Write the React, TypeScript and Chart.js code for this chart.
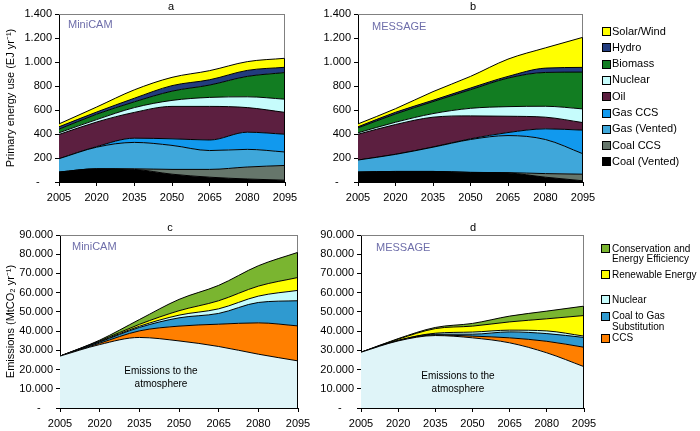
import React, { useEffect, useRef } from "react";
import { Chart, registerables } from "chart.js";
Chart.register(...registerables);

const years = ["2005", "2020", "2035", "2050", "2065", "2080", "2095"];

// Panel a – MiniCAM primary energy (EJ/yr), stacked bottom to top
const miniCoalVented = [83, 110, 105, 65, 40, 25, 15];
const miniCoalCCS = [0, 0, 5, 40, 65, 100, 123];
const miniGasVented = [111, 180, 220, 200, 157, 147, 112];
const miniGasCCS = [0, 5, 35, 55, 88, 143, 148];
const miniOil = [202, 205, 215, 270, 280, 205, 182];
const miniNuclear = [14, 20, 40, 50, 75, 90, 110];
const miniBiomass = [30, 45, 48, 77, 103, 170, 222];
const miniHydro = [20, 18, 30, 46, 44, 50, 44];
const miniSolarWind = [24, 42, 70, 69, 76, 73, 75];

// Panel b – MESSAGE primary energy (EJ/yr)
const msgCoalVented = [83, 88, 88, 80, 75, 40, 10];
const msgCoalCCS = [0, 0, 0, 0, 3, 30, 55];
const msgGasVented = [100, 142, 202, 274, 309, 284, 170];
const msgGasCCS = [0, 1, 2, 6, 25, 89, 197];
const msgOil = [215, 248, 248, 191, 136, 97, 63];
const msgNuclear = [12, 19, 30, 63, 80, 91, 114];
const msgBiomass = [41, 69, 100, 155, 238, 282, 307];
const msgHydro = [9, 14, 11, 14, 14, 36, 39];
const msgSolarWind = [24, 30, 72, 97, 144, 169, 251];

// Panel c – MiniCAM emissions (MtCO2/yr)
const miniAtmosphere = [27000, 33000, 36700, 34900, 32000, 28000, 24500];
const miniCCS = [0, 700, 3400, 7700, 11600, 16300, 18200];
const miniCoalToGas = [0, 600, 1800, 4300, 5600, 10600, 13100];
const miniNuclearAvoided = [0, 300, 600, 1400, 2400, 3300, 5400];
const miniRenewable = [0, 300, 1000, 2300, 4200, 5200, 6700];
const miniConservation = [0, 400, 2500, 5900, 8000, 10600, 13100];

// Panel d – MESSAGE emissions (MtCO2/yr)
const msgAtmosphere = [29000, 34900, 37700, 36500, 33900, 28700, 21500];
const msgCCS = [0, 100, 300, 900, 2600, 6000, 10100];
const msgCoalToGas = [0, 100, 400, 1000, 3100, 4000, 5100];
const msgNuclearAvoided = [0, 100, 500, 1100, 900, 1400, 700];
const msgRenewable = [0, 600, 2400, 3100, 4300, 6300, 10700];
const msgConservation = [0, 300, 600, 1400, 3000, 4000, 4900];

const energyNames = ["Coal (Vented)", "Coal CCS", "Gas (Vented)", "Gas CCS", "Oil", "Nuclear", "Biomass", "Hydro", "Solar/Wind"];
const energyColors = ["#000000", "#66766B", "#3FA7DA", "#1199EE", "#5C1F40", "#C6FCFC", "#127D22", "#223C7E", "#FFFF00"];

const emissionNames = ["Emissions to the atmosphere", "CCS", "Coal to Gas Substitution", "Nuclear", "Renewable Energy", "Conservation and Energy Efficiency"];
const emissionColors = ["#DFF4F8", "#FF7F00", "#2F9AD0", "#C6FCFC", "#FFFF00", "#7AB530"];

const energyTicksMax = 1400;
const energyStep = 200;
const emissionTicksMax = 90000;
const emissionStep = 10000;

const FONT = "'Liberation Sans', Arial, Helvetica, sans-serif";
const W = 700;
const H = 431;
const XH = 25;

function fmt(v: number): string {
  if (v === 0) return "-    ";
  if (v >= 1000) return Math.floor(v / 1000) + "." + String(v % 1000).padStart(3, "0");
  return String(v);
}

type Panel = {
  left: number; top: number; right: number; bottom: number; yW: number;
  yTitle?: string; max: number; step: number;
  series: number[][]; names: string[]; colors: string[];
};

const framePlugin = {
  id: "frame",
  afterDraw(chart: any) {
    const { ctx, chartArea } = chart;
    const { left, top, right, bottom } = chartArea;
    ctx.save();
    ctx.strokeStyle = "#808080";
    ctx.lineWidth = 1;
    ctx.beginPath();
    ctx.moveTo(left, Math.round(top) + 0.5);
    ctx.lineTo(right, Math.round(top) + 0.5);
    ctx.moveTo(Math.round(right) - 0.5, top);
    ctx.lineTo(Math.round(right) - 0.5, bottom);
    ctx.stroke();
    const n = chart.data.datasets.length;
    const meta = chart.getDatasetMeta(n - 1);
    const pt = meta.data[meta.data.length - 1];
    if (pt) {
      ctx.strokeStyle = "#000";
      ctx.beginPath();
      ctx.moveTo(Math.round(right) - 0.5, pt.y);
      ctx.lineTo(Math.round(right) - 0.5, bottom);
      ctx.stroke();
    }
    ctx.restore();
  },
};

function ChartPanel({ p }: { p: Panel }) {
  const ref = useRef<HTMLCanvasElement | null>(null);
  useEffect(() => {
    if (!ref.current) return;
    const font = { family: FONT, size: 11 };
    const datasets = p.series.map((d, i) => ({
      label: p.names[i],
      data: d,
      backgroundColor: p.colors[i],
      borderColor: "#000",
      borderWidth: 1,
      fill: i === 0 ? "origin" : "-1",
      pointRadius: 0,
      cubicInterpolationMode: "monotone" as const,
    }));
    const chart = new Chart(ref.current, {
      type: "line",
      data: { labels: years, datasets },
      options: {
        responsive: false,
        animation: false,
        devicePixelRatio: 1,
        layout: {
          padding: {
            left: p.left - p.yW,
            top: p.top,
            right: W - p.right,
            bottom: H - p.bottom - XH,
          },
        },
        plugins: { legend: { display: false }, title: { display: false }, tooltip: { enabled: false } },
        scales: {
          x: {
            type: "category",
            offset: false,
            z: 1,
            grid: { display: true, drawOnChartArea: false, drawTicks: true, tickLength: 4, color: "#000" },
            border: { display: true, color: "#000", width: 1 },
            ticks: { color: "#000", font, padding: 5, maxRotation: 0, autoSkip: false },
            afterFit: (s: any) => { s.height = XH; },
          },
          y: {
            stacked: true,
            min: 0,
            max: p.max,
            z: 1,
            grid: { display: true, drawOnChartArea: false, drawTicks: true, tickLength: 4, color: "#000" },
            border: { display: true, color: "#000", width: 1 },
            ticks: { stepSize: p.step, color: "#000", font, padding: 3, callback: (v: any) => fmt(Number(v)) },
            title: p.yTitle
              ? { display: true, text: p.yTitle, color: "#000", font, padding: { top: 4, bottom: 0 } }
              : { display: false },
            afterFit: (s: any) => { s.width = p.yW; },
          },
        },
      } as any,
      plugins: [framePlugin],
    });
    return () => chart.destroy();
  }, [p]);
  return <canvas ref={ref} width={W} height={H} style={{ position: "absolute", left: 0, top: 0 }} />;
}

const panels: Panel[] = [
  {
    left: 59, top: 14, right: 285, bottom: 182, yW: 59, yTitle: "Primary energy use (EJ yr\u207B\u00B9)",
    max: energyTicksMax, step: energyStep,
    series: [miniCoalVented, miniCoalCCS, miniGasVented, miniGasCCS, miniOil, miniNuclear, miniBiomass, miniHydro, miniSolarWind],
    names: energyNames, colors: energyColors,
  },
  {
    left: 358, top: 14, right: 583, bottom: 182, yW: 50,
    max: energyTicksMax, step: energyStep,
    series: [msgCoalVented, msgCoalCCS, msgGasVented, msgGasCCS, msgOil, msgNuclear, msgBiomass, msgHydro, msgSolarWind],
    names: energyNames, colors: energyColors,
  },
  {
    left: 60, top: 235, right: 298, bottom: 408, yW: 60, yTitle: "Emissions (MtCO\u2082 yr\u207B\u00B9)",
    max: emissionTicksMax, step: emissionStep,
    series: [miniAtmosphere, miniCCS, miniCoalToGas, miniNuclearAvoided, miniRenewable, miniConservation],
    names: emissionNames, colors: emissionColors,
  },
  {
    left: 361, top: 235, right: 584, bottom: 408, yW: 50,
    max: emissionTicksMax, step: emissionStep,
    series: [msgAtmosphere, msgCCS, msgCoalToGas, msgNuclearAvoided, msgRenewable, msgConservation],
    names: emissionNames, colors: emissionColors,
  },
];

function Txt({ x, cy, size, children, color = "#000", align = "left", lh = 13 }: any) {
  const style: any = {
    position: "absolute",
    top: cy - lh / 2,
    fontFamily: FONT,
    fontSize: size,
    lineHeight: lh + "px",
    color,
    whiteSpace: "nowrap",
  };
  if (align === "center") {
    style.left = x - 100;
    style.width = 200;
    style.textAlign = "center";
  } else {
    style.left = x;
  }
  return <div style={style}>{children}</div>;
}

function Box({ x, cy, color }: any) {
  return (
    <div
      style={{
        position: "absolute",
        left: x,
        top: cy - 4,
        width: 7,
        height: 7,
        background: color,
        border: "1px solid #000",
      }}
    />
  );
}

export default function App() {
  const topLegend = energyNames.map((n, i) => ({ name: n, color: energyColors[i] })).reverse();
  const botLegend = emissionNames.slice(1).map((n, i) => ({ name: n, color: emissionColors[i + 1] })).reverse();
  const botY = [248, 274, 299, 315.5, 337.5];
  const botLines: Record<string, string[]> = {
    "Conservation and Energy Efficiency": ["Conservation and", "Energy Efficiency"],
    "Coal to Gas Substitution": ["Coal to Gas", "Substitution"],
  };
  const modelColor = "#6E6EAA";
  return (
    <div style={{ position: "absolute", left: 0, top: 0, width: W, height: H, background: "#fff", overflow: "hidden" }}>
      {panels.map((p, i) => (
        <ChartPanel key={i} p={p} />
      ))}
      <Txt x={171} cy={6} size={11} align="center">a</Txt>
      <Txt x={473} cy={6} size={11} align="center">b</Txt>
      <Txt x={170} cy={227} size={11} align="center">c</Txt>
      <Txt x={473} cy={227} size={11} align="center">d</Txt>
      <Txt x={68} cy={24} size={11} color={modelColor}>MiniCAM</Txt>
      <Txt x={372} cy={26} size={11} color={modelColor}>MESSAGE</Txt>
      <Txt x={72} cy={246} size={11} color={modelColor}>MiniCAM</Txt>
      <Txt x={376} cy={247} size={11} color={modelColor}>MESSAGE</Txt>
      <Txt x={161} cy={370} size={10} align="center">Emissions to the</Txt>
      <Txt x={161} cy={383} size={10} align="center">atmosphere</Txt>
      <Txt x={458} cy={375} size={10} align="center">Emissions to the</Txt>
      <Txt x={458} cy={388} size={10} align="center">atmosphere</Txt>
      {topLegend.map((it, i) => {
        const cy = 31 + i * 16.3;
        return (
          <React.Fragment key={it.name}>
            <Box x={602} cy={cy} color={it.color} />
            <Txt x={612} cy={cy} size={11}>{it.name}</Txt>
          </React.Fragment>
        );
      })}
      {botLegend.map((it, i) => {
        const cy = botY[i];
        const lines = botLines[it.name] || [it.name];
        return (
          <React.Fragment key={it.name}>
            <Box x={601} cy={cy} color={it.color} />
            {lines.map((l, j) => (
              <Txt key={j} x={612} cy={cy + j * 10.5} size={10} lh={11}>{l}</Txt>
            ))}
          </React.Fragment>
        );
      })}
    </div>
  );
}
